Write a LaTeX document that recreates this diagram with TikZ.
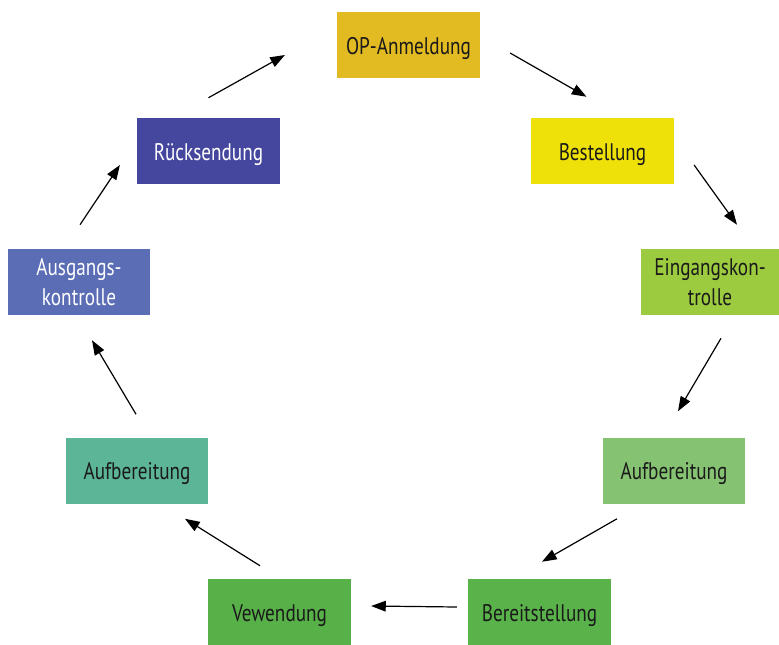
\documentclass[tikz,border=0pt]{standalone}
\usepackage{fontspec}
\setmainfont[FakeStretch=0.8]{PT Sans}
\usepackage{xcolor}
\usetikzlibrary{arrows.meta, calc}

\definecolor{opgold}{HTML}{E2BA22}
\definecolor{bestyellow}{HTML}{EEE10A}
\definecolor{einggreen}{HTML}{9CCB3F}
\definecolor{aufrgreen}{HTML}{85C272}
\definecolor{bergreen}{HTML}{5AB24A}
\definecolor{vewgreen}{HTML}{58B049}
\definecolor{aufteal}{HTML}{5CB596}
\definecolor{ausgblue}{HTML}{5A6DB5}
\definecolor{rueckblue}{HTML}{45479E}
\definecolor{darktext}{HTML}{1A1A1A}

\begin{document}
\begin{tikzpicture}[
        x=0.75pt, y=-0.75pt,
        font=\fontsize{18}{22.5}\selectfont,
        block/.style={rectangle, align=center, inner sep=0pt, minimum height=49.5pt, minimum width=107pt, text=darktext},
        oneline/.style={block, text height=16pt, text depth=2.5pt},
        darkblock/.style={block, text=white},
        arrow/.style={-{Triangle[length=11pt, width=8pt]}, line width=0.9pt}
    ]
        \useasboundingbox (0,0) rectangle (779,644);

        \node[oneline, fill=opgold] (op) at (408.5,45) {OP-Anmeldung};
        \node[oneline, fill=bestyellow] (best) at (602.5,151) {Bestellung};
        \node[block, fill=einggreen, minimum width=103.5pt] (eing) at (710,282) {Eingangskon-\\trolle};
        \node[oneline, fill=aufrgreen] (aufr) at (674,470.5) {Aufbereitung};
        \node[oneline, fill=bergreen] (bereit) at (539.5,612) {Bereitstellung};
        \node[oneline, fill=vewgreen] (vew) at (279.5,612) {Vewendung};
        \node[oneline, fill=aufteal] (aufl) at (137,470.5) {Aufbereitung};
        \node[darkblock, fill=ausgblue] (ausg) at (79,282) {Ausgangs-\\kontrolle};
        \node[oneline, text=white, fill=rueckblue] (rueck) at (208.5,151) {Rücksendung};

        \draw[arrow] ($(rueck.north)+(0,-20)$) -- ($(op.west)+(-52,10)$);
        \draw[arrow] ($(op.east)+(30,8)$) -- ($(best.north)+(-16,-21)$);
        \draw[arrow] ($(best.east)+(20,14)$) -- ($(eing.north)+(27,-24)$);
        \draw[arrow] ($(eing.south)+(11,23)$) -- ($(aufr.north)+(4,-26)$);
        \draw[arrow] ($(aufr.south)+(-57,15)$) -- ($(bereit.north)+(2.5,-17)$);
        \draw[arrow] ($(bereit.west)+(-11,-5)$) -- ($(vew.east)+(20,-6)$);
        \draw[arrow] ($(vew.north)+(-19.5,-13)$) -- ($(aufl.south)+(48,15)$);
        \draw[arrow] ($(aufl.north)+(-1,-23)$) -- ($(ausg.south)+(13,25)$);
        \draw[arrow] ($(ausg.north)+(1,-24)$) -- ($(rueck.west)+(-17,14)$);
    \end{tikzpicture}
\end{document}
